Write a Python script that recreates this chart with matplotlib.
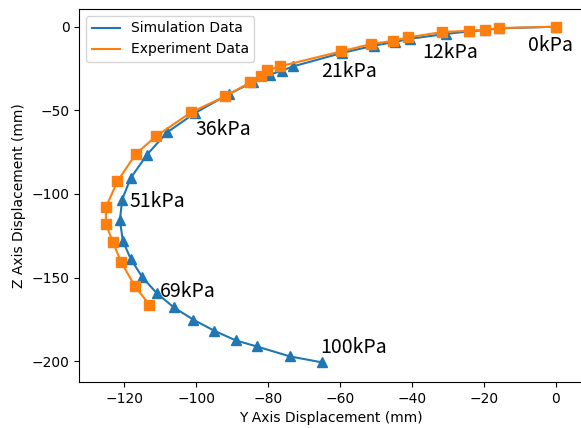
import matplotlib
matplotlib.use("Agg")
import matplotlib.pyplot as plt

# simulation data (Y, Z displacement in mm)
sim_y = [0, -15.8, -19.6, -24.1, -30.5, -40.5, -44.6, -50.5, -59.3,
         -73.0, -76.2, -79.5, -84.3, -90.8, -100.3, -108.1, -113.7,
         -118.2, -120.6, -121.2, -120.4, -118.2, -115.0, -111.0, -106.2,
         -100.8, -95.0, -89.0, -83.2, -73.9, -64.9]
sim_z = [0, -1.0, -2.0, -2.8, -4.3, -7.2, -9.0, -11.3, -15.6,
         -23.7, -26.3, -28.7, -33.3, -40.1, -51.6, -63.2, -76.6,
         -90.5, -103.5, -115.8, -128.0, -138.9, -149.7, -159.3, -167.9,
         -175.2, -181.8, -187.6, -191.2, -197.2, -200.8]

# experiment data
exp_y = [0, -15.8, -19.6, -24.1, -31.7, -41.1, -45.2, -51.4, -59.8,
         -76.7, -80.2, -82.0, -85.0, -92.0, -101.5, -111.2, -116.8,
         -121.9, -125.1, -125.1, -123.2, -120.9, -117.0, -113.0]
exp_z = [0, -0.8, -1.8, -2.4, -3.2, -6.4, -8.4, -10.4, -14.8,
         -23.7, -26.1, -29.3, -33.3, -41.7, -51.3, -65.6, -76.1,
         -92.5, -108.0, -118.0, -128.6, -140.6, -155.3, -166.3]

# pressure labels
labels = ["0kPa", "12kPa", "21kPa", "36kPa", "51kPa", "69kPa", "100kPa"]
label_y = [-7.7, -37.2, -65.3, -100.1, -118.4, -110.1, -65.6]
label_z = [-11.5, -15.7, -26.5, -61.2, -104.8, -158.1, -191.6]

fig = plt.figure(figsize=(5.81, 4.28), dpi=100)
ax = fig.add_axes([79.3 / 581, 46 / 428, 503 / 581, 373 / 428])

ax.plot(sim_y, sim_z, color="tab:blue", label="Simulation Data")
ax.plot(sim_y, sim_z, "^", color="tab:blue", markersize=6.5)
ax.plot(exp_y, exp_z, color="tab:orange", label="Experiment Data")
ax.plot(exp_y, exp_z, "s", color="tab:orange", markersize=6.5)

for txt, x, z in zip(labels, label_y, label_z):
    ax.text(x, z, txt, ha="left", va="center", fontsize=14,
            family=["Noto Sans CJK SC", "DejaVu Sans"])

ax.set_xlim(-132.5, 7.4)
ax.set_ylim(-212.5, 10.6)
ax.set_xticks([-120, -100, -80, -60, -40, -20, 0])
ax.set_yticks([0, -50, -100, -150, -200])
ax.set_xlabel("Y Axis Displacement (mm)")
ax.set_ylabel("Z Axis Displacement (mm)")
ax.legend(loc="upper left")

fig.savefig("out.png", dpi=100)
